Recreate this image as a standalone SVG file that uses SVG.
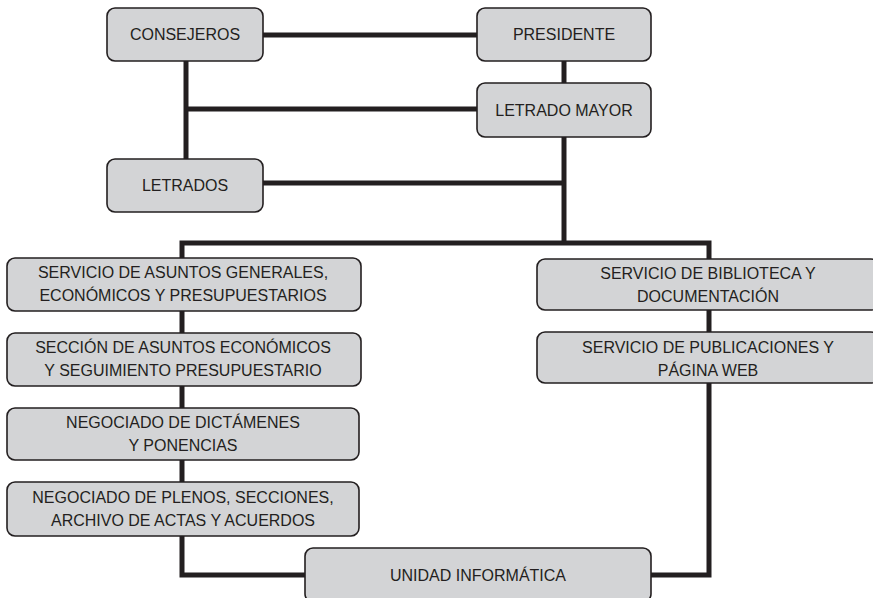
<svg xmlns="http://www.w3.org/2000/svg" width="873" height="598" viewBox="0 0 873 598">
<style>
.box{fill:#d3d4d6;stroke:#231f20;stroke-width:1.6}
.t{font-family:"Liberation Sans",Arial,sans-serif;font-size:16px;fill:#231f20;text-anchor:middle}
.c{fill:none;stroke:#231f20;stroke-width:5;stroke-linejoin:miter}
</style>
<rect width="873" height="598" fill="#ffffff"/>
<g id="connectors">
<path class="c" d="M263 35H477"/>
<path class="c" d="M564 61V83"/>
<path class="c" d="M186 61V159"/>
<path class="c" d="M186 109H477"/>
<path class="c" d="M263 183H564"/>
<path class="c" d="M564 137V243"/>
<path class="c" d="M182 258V243H709V259"/>
<path class="c" d="M182 311V333"/>
<path class="c" d="M182 386V408"/>
<path class="c" d="M182 460V482"/>
<path class="c" d="M182 536V575H305"/>
<path class="c" d="M709 310V332"/>
<path class="c" d="M709 383V575H651"/>
</g>
<g id="consejeros"><rect class="box" x="107" y="8" width="156" height="53" rx="8"/><text class="t" x="185" y="40">CONSEJEROS</text></g>
<g id="presidente"><rect class="box" x="477" y="8" width="174" height="53" rx="8"/><text class="t" x="564" y="40">PRESIDENTE</text></g>
<g id="letrado-mayor"><rect class="box" x="477" y="83" width="174" height="54" rx="8"/><text class="t" x="564" y="116">LETRADO MAYOR</text></g>
<g id="letrados"><rect class="box" x="107" y="159" width="156" height="53" rx="8"/><text class="t" x="185" y="191">LETRADOS</text></g>
<g id="servicio-asuntos"><rect class="box" x="7" y="258" width="354" height="53" rx="8"/><text class="t" x="183" y="278">SERVICIO DE ASUNTOS GENERALES,</text><text class="t" x="183" y="301">ECONÓMICOS Y PRESUPUESTARIOS</text></g>
<g id="seccion-asuntos"><rect class="box" x="7" y="333" width="354" height="53" rx="8"/><text class="t" x="183" y="353">SECCIÓN DE ASUNTOS ECONÓMICOS</text><text class="t" x="183" y="376">Y SEGUIMIENTO PRESUPUESTARIO</text></g>
<g id="negociado-dictamenes"><rect class="box" x="7" y="408" width="352" height="52" rx="8"/><text class="t" x="183" y="428">NEGOCIADO DE DICTÁMENES</text><text class="t" x="183" y="451">Y PONENCIAS</text></g>
<g id="negociado-plenos"><rect class="box" x="7" y="482" width="352" height="54" rx="8"/><text class="t" x="183" y="503">NEGOCIADO DE PLENOS, SECCIONES,</text><text class="t" x="183" y="526">ARCHIVO DE ACTAS Y ACUERDOS</text></g>
<g id="biblioteca"><rect class="box" x="537" y="259" width="342" height="51" rx="8"/><text class="t" x="708" y="279">SERVICIO DE BIBLIOTECA Y</text><text class="t" x="708" y="302">DOCUMENTACIÓN</text></g>
<g id="publicaciones"><rect class="box" x="537" y="332" width="342" height="51" rx="8"/><text class="t" x="708" y="353">SERVICIO DE PUBLICACIONES Y</text><text class="t" x="708" y="376">PÁGINA WEB</text></g>
<g id="unidad-informatica"><rect class="box" x="305" y="548" width="346" height="54" rx="8"/><text class="t" x="478" y="581">UNIDAD INFORMÁTICA</text></g>
</svg>
